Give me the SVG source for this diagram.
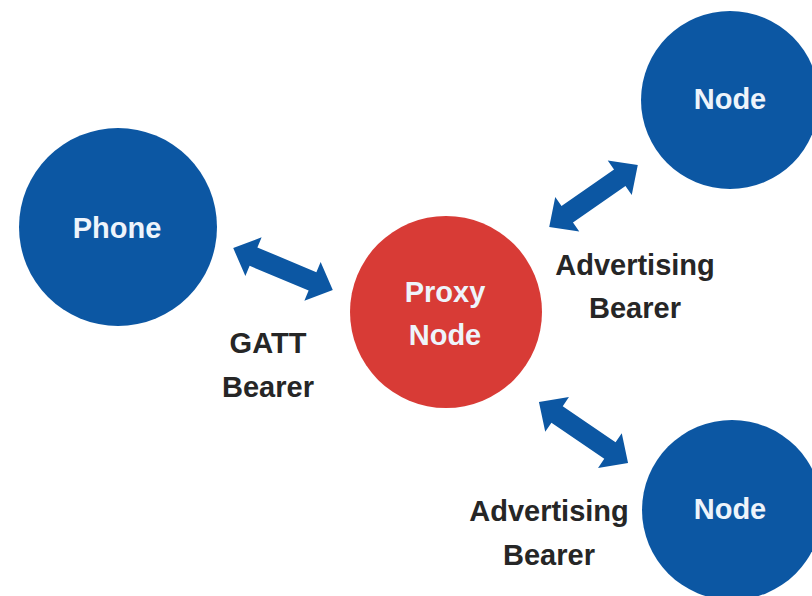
<svg xmlns="http://www.w3.org/2000/svg" xmlns:xlink="http://www.w3.org/1999/xlink" width="812" height="596" viewBox="0 0 812 596">
  <style>
    .node-blue { fill: #0c57a3; }
    .node-red { fill: #d83b36; }
    .node-label { font-family: "Liberation Sans", Arial, sans-serif; font-weight: bold; font-size: 29px; fill: #eef4fb; text-anchor: middle; }
    .edge-label { font-family: "Liberation Sans", Arial, sans-serif; font-weight: bold; font-size: 29px; fill: #262626; text-anchor: middle; }
    .arrow { fill: #0c57a3; }
  </style>
  <defs>
    <!-- double-headed block arrow, 108px long, centred on the origin -->
    <path id="dbl-arrow" d="M -54,0 L -32,-21 L -32,-10 L 32,-10 L 32,-21 L 54,0 L 32,21 L 32,10 L -32,10 L -32,21 Z"/>
  </defs>
  <rect width="812" height="596" fill="#ffffff"/>

  <g id="connectors">
    <use xlink:href="#dbl-arrow" class="arrow" transform="translate(283,269) rotate(22.8)"/>
    <use xlink:href="#dbl-arrow" class="arrow" transform="translate(593.5,196) rotate(-34.9)"/>
    <use xlink:href="#dbl-arrow" class="arrow" transform="translate(583.5,432.5) rotate(34.4)"/>
    <text class="edge-label" x="268" y="353">GATT</text>
    <text class="edge-label" x="268" y="397">Bearer</text>
    <text class="edge-label" x="635" y="275">Advertising</text>
    <text class="edge-label" x="635" y="318">Bearer</text>
    <text class="edge-label" x="549" y="521">Advertising</text>
    <text class="edge-label" x="549" y="565">Bearer</text>
  </g>

  <g id="phone">
    <circle class="node-blue" cx="118" cy="227" r="99"/>
    <text class="node-label" x="117" y="238">Phone</text>
  </g>

  <g id="proxy-node">
    <circle class="node-red" cx="446" cy="312" r="96"/>
    <text class="node-label" x="445" y="302">Proxy</text>
    <text class="node-label" x="445" y="345">Node</text>
  </g>

  <g id="node-top">
    <circle class="node-blue" cx="730" cy="100" r="89"/>
    <text class="node-label" x="730" y="109">Node</text>
  </g>

  <g id="node-bottom">
    <circle class="node-blue" cx="732" cy="510" r="90"/>
    <text class="node-label" x="730" y="519">Node</text>
  </g>
</svg>
